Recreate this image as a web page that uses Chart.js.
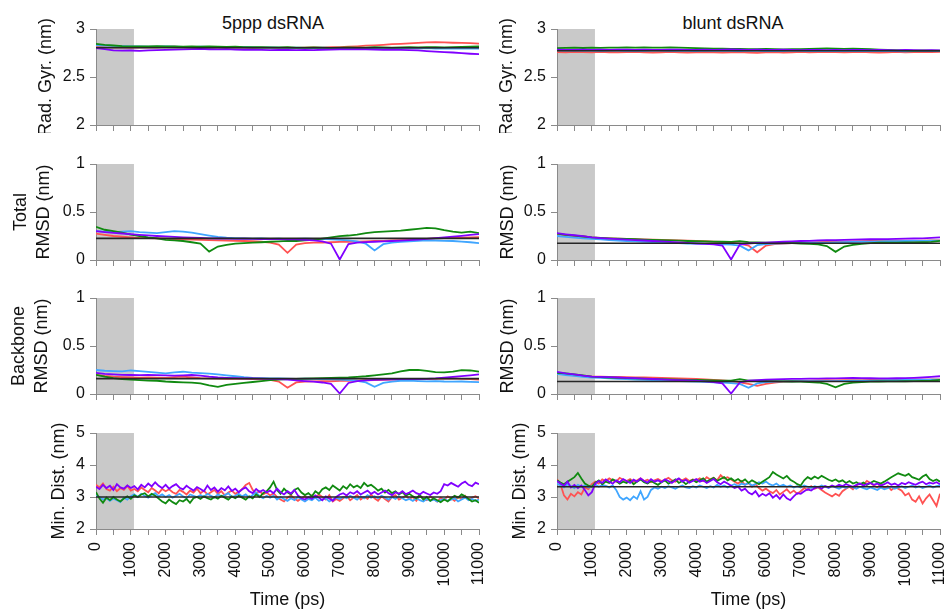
<!DOCTYPE html>
<html>
<head>
<meta charset="utf-8">
<title>dsRNA MD stability</title>
<script src="https://cdn.jsdelivr.net/npm/chart.js@4.4.1/dist/chart.umd.min.js"></script>
<style>
  html, body { margin: 0; padding: 0; background: #ffffff; }
  #page { position: relative; width: 948px; height: 613px; overflow: hidden;
          font-family: "Liberation Sans", Arial, sans-serif; }
  #page canvas { position: absolute; }
  .heading { position: absolute; top: 13px; font-size: 18px; line-height: 20px; color: #111;
             white-space: nowrap; transform: translateX(-50%); }
</style>
</head>
<body>
<div id="page">
  <div class="heading" style="left:273px">5ppp dsRNA</div>
  <div class="heading" style="left:733px">blunt dsRNA</div>
</div>
<script>
// ---------------- time axes (ps) ----------------
const timeCoarsePs = [
  0, 250, 500, 750, 1000, 1250, 1500, 1750, 2000, 2250,
  2500, 2750, 3000, 3250, 3500, 3750, 4000, 4250, 4500, 4750,
  5000, 5250, 5500, 5750, 6000, 6250, 6500, 6750, 7000, 7250,
  7500, 7750, 8000, 8250, 8500, 8750, 9000, 9250, 9500, 9750,
  10000, 10250, 10500, 10750, 11000
];
const timeFinePs = [
  0, 100, 200, 300, 400, 500, 600, 700, 800, 900,
  1000, 1100, 1200, 1300, 1400, 1500, 1600, 1700, 1800, 1900,
  2000, 2100, 2200, 2300, 2400, 2500, 2600, 2700, 2800, 2900,
  3000, 3100, 3200, 3300, 3400, 3500, 3600, 3700, 3800, 3900,
  4000, 4100, 4200, 4300, 4400, 4500, 4600, 4700, 4800, 4900,
  5000, 5100, 5200, 5300, 5400, 5500, 5600, 5700, 5800, 5900,
  6000, 6100, 6200, 6300, 6400, 6500, 6600, 6700, 6800, 6900,
  7000, 7100, 7200, 7300, 7400, 7500, 7600, 7700, 7800, 7900,
  8000, 8100, 8200, 8300, 8400, 8500, 8600, 8700, 8800, 8900,
  9000, 9100, 9200, 9300, 9400, 9500, 9600, 9700, 9800, 9900,
  10000, 10100, 10200, 10300, 10400, 10500, 10600, 10700, 10800, 10900,
  11000
];
const equilibrationEndPs = 1090;
const timeTickLabels = ['0','1000','2000','3000','4000','5000','6000','7000','8000','9000','10000','11000'];

// reference level per row: Rad. Gyr., Total RMSD, Backbone RMSD, Min. Dist.
const referenceLevels5ppp  = [2.805, 0.225, 0.160, 3.00];
const referenceLevelsBlunt = [2.773, 0.174, 0.130, 3.32];

// ---------------- radius of gyration (nm) ----------------
const rg5pppRed = [
  2.815, 2.812, 2.808, 2.810, 2.806, 2.810, 2.812, 2.809, 2.813, 2.815,
  2.812, 2.810, 2.808, 2.811, 2.809, 2.806, 2.808, 2.806, 2.804, 2.807,
  2.805, 2.803, 2.806, 2.804, 2.807, 2.809, 2.806, 2.810, 2.812, 2.815,
  2.820, 2.826, 2.830, 2.835, 2.842, 2.845, 2.850, 2.855, 2.860, 2.862,
  2.860, 2.857, 2.855, 2.852, 2.848
];
const rg5pppBlue = [
  2.830, 2.828, 2.825, 2.822, 2.818, 2.820, 2.817, 2.815, 2.818, 2.816,
  2.814, 2.812, 2.815, 2.813, 2.811, 2.809, 2.812, 2.810, 2.808, 2.806,
  2.808, 2.805, 2.803, 2.806, 2.804, 2.802, 2.805, 2.803, 2.801, 2.804,
  2.802, 2.800, 2.803, 2.801, 2.799, 2.802, 2.800, 2.798, 2.800, 2.797,
  2.799, 2.796, 2.798, 2.795, 2.797
];
const rg5pppGreen = [
  2.845, 2.835, 2.828, 2.822, 2.820, 2.818, 2.820, 2.822, 2.818, 2.820,
  2.817, 2.819, 2.816, 2.818, 2.815, 2.813, 2.815, 2.812, 2.810, 2.812,
  2.809, 2.808, 2.810, 2.807, 2.805, 2.808, 2.806, 2.804, 2.806, 2.808,
  2.805, 2.807, 2.810, 2.808, 2.806, 2.809, 2.811, 2.808, 2.810, 2.812,
  2.809, 2.811, 2.814, 2.816, 2.818
];
const rg5pppPurple = [
  2.800, 2.790, 2.778, 2.774, 2.776, 2.772, 2.778, 2.780, 2.783, 2.786,
  2.788, 2.790, 2.792, 2.789, 2.787, 2.790, 2.786, 2.784, 2.786, 2.782,
  2.780, 2.783, 2.781, 2.779, 2.782, 2.780, 2.784, 2.786, 2.789, 2.787,
  2.790, 2.787, 2.785, 2.783, 2.786, 2.782, 2.780, 2.777, 2.770, 2.765,
  2.760, 2.755, 2.748, 2.742, 2.738
];
const rgBluntRed = [
  2.760, 2.758, 2.762, 2.759, 2.757, 2.761, 2.758, 2.756, 2.759, 2.762,
  2.758, 2.755, 2.758, 2.761, 2.757, 2.754, 2.757, 2.760, 2.756, 2.753,
  2.756, 2.759, 2.755, 2.752, 2.756, 2.759, 2.755, 2.758, 2.761, 2.757,
  2.760, 2.763, 2.759, 2.756, 2.759, 2.762, 2.758, 2.755, 2.758, 2.761,
  2.757, 2.760, 2.763, 2.759, 2.762
];
const rgBluntBlue = [
  2.778, 2.776, 2.774, 2.777, 2.775, 2.773, 2.776, 2.774, 2.772, 2.775,
  2.773, 2.776, 2.774, 2.772, 2.775, 2.773, 2.771, 2.774, 2.772, 2.775,
  2.773, 2.771, 2.774, 2.772, 2.770, 2.773, 2.771, 2.774, 2.772, 2.770,
  2.773, 2.771, 2.769, 2.772, 2.770, 2.773, 2.771, 2.769, 2.772, 2.770,
  2.768, 2.771, 2.769, 2.772, 2.770
];
const rgBluntGreen = [
  2.800, 2.803, 2.805, 2.802, 2.806, 2.804, 2.807, 2.805, 2.808, 2.806,
  2.809, 2.807, 2.805, 2.808, 2.806, 2.803, 2.800, 2.798, 2.796, 2.795,
  2.792, 2.794, 2.791, 2.789, 2.792, 2.790, 2.788, 2.791, 2.789, 2.793,
  2.795, 2.798, 2.796, 2.794, 2.796, 2.792, 2.789, 2.785, 2.782, 2.779,
  2.777, 2.775, 2.776, 2.774, 2.775
];
const rgBluntPurple = [
  2.785, 2.783, 2.781, 2.784, 2.782, 2.785, 2.783, 2.786, 2.784, 2.782,
  2.785, 2.783, 2.781, 2.784, 2.786, 2.783, 2.781, 2.784, 2.782, 2.785,
  2.787, 2.784, 2.782, 2.785, 2.783, 2.781, 2.784, 2.782, 2.780, 2.783,
  2.781, 2.779, 2.782, 2.780, 2.783, 2.781, 2.779, 2.782, 2.780, 2.778,
  2.781, 2.779, 2.777, 2.780, 2.778
];

// ---------------- total RMSD (nm) ----------------
const tot5pppRed = [
  0.275, 0.262, 0.250, 0.242, 0.235, 0.230, 0.228, 0.225, 0.222, 0.218,
  0.215, 0.212, 0.210, 0.208, 0.205, 0.203, 0.200, 0.198, 0.196, 0.190,
  0.180, 0.160, 0.075, 0.160, 0.175, 0.180, 0.182, 0.185, 0.188, 0.190,
  0.192, 0.195, 0.198, 0.200, 0.203, 0.206, 0.210, 0.215, 0.220, 0.225,
  0.228, 0.230, 0.232, 0.235, 0.238
];
const tot5pppBlue = [
  0.300, 0.295, 0.290, 0.295, 0.300, 0.290, 0.285, 0.280, 0.290, 0.300,
  0.295, 0.285, 0.270, 0.255, 0.240, 0.232, 0.228, 0.225, 0.222, 0.224,
  0.220, 0.222, 0.218, 0.220, 0.222, 0.219, 0.221, 0.215, 0.210, 0.205,
  0.195, 0.170, 0.100, 0.165, 0.180, 0.188, 0.195, 0.200, 0.205, 0.203,
  0.200, 0.198, 0.192, 0.185, 0.175
];
const tot5pppGreen = [
  0.345, 0.315, 0.300, 0.285, 0.265, 0.250, 0.235, 0.225, 0.210, 0.205,
  0.198, 0.185, 0.170, 0.088, 0.140, 0.158, 0.170, 0.175, 0.180, 0.185,
  0.190, 0.195, 0.200, 0.198, 0.205, 0.210, 0.222, 0.235, 0.248, 0.255,
  0.265, 0.280, 0.290, 0.295, 0.300, 0.305, 0.315, 0.325, 0.335, 0.330,
  0.310, 0.295, 0.285, 0.295, 0.280
];
const tot5pppPurple = [
  0.300, 0.290, 0.282, 0.276, 0.270, 0.262, 0.256, 0.250, 0.246, 0.240,
  0.236, 0.232, 0.230, 0.226, 0.224, 0.222, 0.220, 0.222, 0.220, 0.218,
  0.220, 0.218, 0.216, 0.214, 0.210, 0.205, 0.195, 0.170, 0.005, 0.165,
  0.180, 0.186, 0.190, 0.194, 0.198, 0.202, 0.206, 0.212, 0.220, 0.228,
  0.236, 0.244, 0.252, 0.262, 0.270
];
const totBluntRed = [
  0.270, 0.260, 0.252, 0.245, 0.236, 0.230, 0.226, 0.223, 0.220, 0.218,
  0.215, 0.212, 0.210, 0.207, 0.205, 0.202, 0.200, 0.196, 0.192, 0.188,
  0.182, 0.170, 0.150, 0.080, 0.150, 0.165, 0.170, 0.175, 0.178, 0.182,
  0.185, 0.188, 0.190, 0.192, 0.194, 0.196, 0.198, 0.200, 0.200, 0.201,
  0.202, 0.200, 0.201, 0.203, 0.204
];
const totBluntBlue = [
  0.250, 0.240, 0.232, 0.226, 0.220, 0.214, 0.208, 0.203, 0.198, 0.194,
  0.190, 0.186, 0.182, 0.178, 0.175, 0.172, 0.170, 0.167, 0.165, 0.163,
  0.160, 0.150, 0.100, 0.155, 0.165, 0.170, 0.173, 0.176, 0.178, 0.180,
  0.181, 0.182, 0.184, 0.186, 0.188, 0.190, 0.192, 0.194, 0.196, 0.197,
  0.198, 0.199, 0.200, 0.201, 0.202
];
const totBluntGreen = [
  0.275, 0.262, 0.253, 0.245, 0.236, 0.230, 0.226, 0.222, 0.219, 0.216,
  0.213, 0.210, 0.207, 0.204, 0.201, 0.198, 0.196, 0.194, 0.192, 0.190,
  0.188, 0.196, 0.186, 0.184, 0.182, 0.180, 0.178, 0.175, 0.172, 0.168,
  0.162, 0.145, 0.085, 0.140, 0.158, 0.168, 0.176, 0.180, 0.182, 0.182,
  0.183, 0.184, 0.185, 0.188, 0.200
];
const totBluntPurple = [
  0.280, 0.268, 0.258, 0.248, 0.236, 0.228, 0.222, 0.218, 0.213, 0.208,
  0.203, 0.198, 0.193, 0.188, 0.183, 0.178, 0.172, 0.168, 0.163, 0.150,
  0.005, 0.160, 0.172, 0.178, 0.182, 0.186, 0.190, 0.194, 0.198, 0.200,
  0.204, 0.206, 0.208, 0.210, 0.212, 0.214, 0.216, 0.218, 0.218, 0.220,
  0.222, 0.224, 0.226, 0.230, 0.235
];

// ---------------- backbone RMSD (nm) ----------------
const bb5pppRed = [
  0.200, 0.188, 0.180, 0.175, 0.172, 0.170, 0.172, 0.170, 0.168, 0.175,
  0.180, 0.172, 0.165, 0.162, 0.160, 0.158, 0.160, 0.158, 0.156, 0.152,
  0.148, 0.130, 0.065, 0.120, 0.130, 0.132, 0.135, 0.133, 0.136, 0.138,
  0.140, 0.143, 0.145, 0.148, 0.150, 0.152, 0.150, 0.153, 0.156, 0.158,
  0.160, 0.162, 0.158, 0.155, 0.150
];
const bb5pppBlue = [
  0.250, 0.242, 0.238, 0.235, 0.245, 0.238, 0.230, 0.222, 0.215, 0.225,
  0.232, 0.222, 0.218, 0.212, 0.205, 0.195, 0.185, 0.175, 0.168, 0.165,
  0.163, 0.162, 0.160, 0.158, 0.160, 0.158, 0.155, 0.152, 0.150, 0.145,
  0.138, 0.120, 0.075, 0.115, 0.130, 0.138, 0.140, 0.135, 0.132, 0.135,
  0.130, 0.128, 0.130, 0.126, 0.124
];
const bb5pppGreen = [
  0.200, 0.180, 0.165, 0.155, 0.150, 0.145, 0.140, 0.138, 0.130, 0.125,
  0.122, 0.118, 0.110, 0.090, 0.075, 0.095, 0.105, 0.115, 0.125, 0.135,
  0.145, 0.150, 0.155, 0.158, 0.160, 0.162, 0.165, 0.168, 0.170, 0.172,
  0.178, 0.185, 0.195, 0.205, 0.215, 0.235, 0.250, 0.252, 0.240, 0.228,
  0.225, 0.232, 0.248, 0.245, 0.232
];
const bb5pppPurple = [
  0.220, 0.210, 0.205, 0.200, 0.198, 0.196, 0.198, 0.196, 0.194, 0.192,
  0.195, 0.198, 0.192, 0.180, 0.172, 0.168, 0.165, 0.163, 0.162, 0.160,
  0.158, 0.156, 0.150, 0.142, 0.135, 0.128, 0.120, 0.105, 0.005, 0.115,
  0.135, 0.142, 0.148, 0.150, 0.152, 0.154, 0.155, 0.156, 0.158, 0.162,
  0.170, 0.178, 0.186, 0.195, 0.205
];
const bbBluntRed = [
  0.220, 0.205, 0.195, 0.188, 0.182, 0.180, 0.178, 0.177, 0.175, 0.173,
  0.172, 0.170, 0.168, 0.166, 0.163, 0.160, 0.157, 0.153, 0.148, 0.142,
  0.135, 0.122, 0.105, 0.085, 0.105, 0.118, 0.128, 0.133, 0.137, 0.140,
  0.142, 0.143, 0.142, 0.144, 0.145, 0.144, 0.146, 0.148, 0.147, 0.149,
  0.150, 0.151, 0.150, 0.152, 0.153
];
const bbBluntBlue = [
  0.210, 0.198, 0.188, 0.178, 0.172, 0.168, 0.163, 0.158, 0.154, 0.150,
  0.147, 0.144, 0.141, 0.138, 0.135, 0.132, 0.130, 0.126, 0.122, 0.118,
  0.114, 0.105, 0.065, 0.110, 0.125, 0.130, 0.132, 0.133, 0.134, 0.133,
  0.134, 0.135, 0.134, 0.136, 0.138, 0.139, 0.140, 0.142, 0.144, 0.145,
  0.146, 0.147, 0.148, 0.149, 0.150
];
const bbBluntGreen = [
  0.220, 0.215, 0.205, 0.195, 0.182, 0.176, 0.172, 0.168, 0.165, 0.162,
  0.160, 0.157, 0.155, 0.152, 0.150, 0.148, 0.146, 0.144, 0.142, 0.140,
  0.139, 0.155, 0.140, 0.138, 0.136, 0.134, 0.132, 0.130, 0.128, 0.125,
  0.120, 0.105, 0.070, 0.105, 0.118, 0.124, 0.128, 0.130, 0.131, 0.132,
  0.133, 0.134, 0.136, 0.140, 0.148
];
const bbBluntPurple = [
  0.230, 0.215, 0.205, 0.192, 0.182, 0.178, 0.175, 0.172, 0.168, 0.165,
  0.160, 0.156, 0.152, 0.148, 0.145, 0.142, 0.138, 0.132, 0.125, 0.110,
  0.005, 0.120, 0.138, 0.145, 0.150, 0.152, 0.155, 0.157, 0.158, 0.160,
  0.160, 0.162, 0.163, 0.165, 0.168, 0.166, 0.164, 0.163, 0.162, 0.164,
  0.166, 0.168, 0.172, 0.178, 0.185
];

// ---------------- minimum distance (nm) ----------------
const md5pppRed = [
  3.38, 3.30, 3.42, 3.25, 3.20, 3.32, 3.18, 3.28, 3.22, 3.35,
  3.20, 3.25, 3.18, 3.30, 3.22, 3.15, 3.28, 3.20, 3.12, 3.25,
  3.18, 3.24, 3.15, 3.10, 3.22, 3.16, 3.08, 3.20, 3.14, 3.26,
  3.12, 3.20, 3.08, 3.15, 3.22, 3.10, 3.18, 3.05, 3.14, 3.20,
  3.10, 3.16, 3.25, 3.38, 3.44, 3.22, 3.12, 3.18, 3.08, 3.14,
  3.05, 3.12, 3.00, 2.92, 2.86, 2.98, 3.05, 2.95, 2.88, 2.96,
  3.02, 2.94, 3.05, 2.98, 3.08, 3.00, 2.92, 3.06, 2.86, 2.94,
  2.88, 2.96, 3.04, 2.90, 2.98, 3.06, 2.92, 3.00, 2.94, 3.08,
  2.96, 2.88, 3.02, 2.94, 2.86, 3.00, 3.06, 2.92, 2.98, 3.04,
  2.94, 3.00, 2.88, 3.04, 2.96, 2.90, 3.02, 2.94, 2.86, 2.98,
  2.92, 3.02, 2.96, 2.88, 3.00, 2.94, 3.04, 2.92, 2.98, 3.02,
  2.95
];
const md5pppBlue = [
  3.05, 3.00, 2.92, 2.96, 2.88, 2.95, 2.90, 2.84, 2.98, 2.92,
  3.02, 3.08, 3.00, 3.10, 3.04, 2.98, 3.06, 3.12, 3.02, 3.08,
  3.00, 3.06, 2.98, 3.04, 3.10, 3.02, 2.96, 3.08, 3.04, 3.00,
  3.06, 3.00, 3.10, 3.04, 2.98, 3.08, 3.02, 3.06, 3.12, 3.00,
  3.04, 3.10, 3.02, 3.08, 2.98, 3.06, 3.14, 3.02, 2.96, 3.04,
  2.98, 3.04, 2.92, 3.00, 2.94, 2.88, 2.96, 2.90, 3.00, 2.92,
  2.86, 2.94, 2.90, 2.98, 2.88, 2.92, 2.96, 2.86, 2.92, 2.98,
  2.94, 3.00, 2.96, 3.04, 2.98, 2.92, 3.02, 2.96, 3.06, 2.98,
  3.02, 2.96, 3.04, 2.98, 2.92, 3.00, 2.94, 3.02, 2.96, 2.90,
  2.94, 2.88, 2.96, 2.90, 2.86, 2.94, 2.88, 2.92, 2.86, 2.90,
  2.94, 2.88, 2.92, 2.96, 2.86, 2.92, 2.98, 2.90, 2.94, 2.88,
  2.92
];
const md5pppGreen = [
  3.15, 2.95, 2.82, 2.98, 2.90, 3.00, 2.92, 2.86, 2.95, 3.02,
  2.94, 3.05, 3.00, 3.08, 3.12, 3.02, 3.10, 3.04, 2.95, 2.86,
  2.80, 2.92, 2.84, 2.78, 2.90, 2.86, 2.94, 2.82, 2.96, 3.00,
  2.94, 3.02, 2.96, 2.92, 3.00, 2.95, 3.04, 2.98, 2.92, 3.02,
  2.96, 3.04, 2.98, 2.92, 3.02, 2.96, 3.08, 3.00, 3.12, 3.18,
  3.30, 3.48, 3.22, 3.10, 3.26, 3.15, 3.08, 3.22, 3.28, 3.14,
  3.06, 3.12, 3.02, 3.18, 3.10, 3.24, 3.30, 3.22, 3.36, 3.28,
  3.20, 3.34, 3.26, 3.40, 3.30, 3.36, 3.28, 3.44, 3.34, 3.38,
  3.30, 3.20, 3.26, 3.14, 3.22, 3.12, 3.18, 3.08, 3.15, 3.04,
  3.10, 3.02, 2.96, 3.06, 2.92, 3.00, 2.88, 2.96, 2.90, 2.84,
  2.92, 2.86, 2.96, 3.04, 2.98, 3.08, 3.02, 2.94, 2.86, 2.90,
  2.82
];
const md5pppPurple = [
  3.32, 3.25, 3.38, 3.28, 3.35, 3.22, 3.40, 3.30, 3.26, 3.36,
  3.28, 3.34, 3.24, 3.38, 3.30, 3.42, 3.33, 3.46, 3.35, 3.28,
  3.38, 3.26, 3.34, 3.40, 3.29, 3.24, 3.35, 3.27, 3.20, 3.31,
  3.25, 3.18, 3.36, 3.22, 3.30, 3.17, 3.28, 3.21, 3.33, 3.19,
  3.26, 3.15, 3.24, 3.30, 3.18, 3.12, 3.25, 3.16, 3.22, 3.14,
  3.20, 3.12, 3.26, 3.15, 3.08, 3.18, 3.11, 3.22, 3.05, 2.96,
  2.92, 3.00, 2.94, 3.05, 2.98, 2.90, 3.02, 2.95, 2.88, 3.00,
  3.08, 3.12, 3.05, 3.15, 3.10, 3.18, 3.08, 3.14, 3.20, 3.10,
  3.16, 3.08, 3.14, 3.20, 3.12, 3.06, 3.15, 3.10, 3.18, 3.09,
  3.14, 3.20, 3.12, 3.08, 3.16, 3.11, 3.06, 3.14, 3.10, 3.18,
  3.40, 3.36, 3.44, 3.38, 3.32, 3.42, 3.48, 3.38, 3.34, 3.45,
  3.40
];
const mdBluntRed = [
  3.55, 3.40, 3.05, 2.92, 3.10, 3.02, 3.15, 3.08, 3.30, 3.25,
  3.40, 3.48, 3.42, 3.55, 3.50, 3.58, 3.52, 3.48, 3.60, 3.54,
  3.50, 3.56, 3.48, 3.52, 3.58, 3.50, 3.54, 3.46, 3.52, 3.56,
  3.50, 3.54, 3.60, 3.52, 3.48, 3.56, 3.52, 3.58, 3.50, 3.55,
  3.52, 3.58, 3.50, 3.62, 3.55, 3.60, 3.52, 3.68, 3.58, 3.62,
  3.55, 3.48, 3.42, 3.50, 3.38, 3.44, 3.32, 3.40, 3.28, 3.20,
  3.26, 3.18, 3.12, 3.22, 3.08, 3.16, 3.24, 3.12, 3.20, 3.10,
  3.18, 3.28, 3.22, 3.34, 3.26, 3.30, 3.22, 3.14, 3.08, 3.02,
  3.10, 3.04, 3.18, 3.26, 3.32, 3.24, 3.36, 3.42, 3.38, 3.50,
  3.44, 3.36, 3.30, 3.40, 3.28, 3.34, 3.22, 3.30, 3.26, 3.20,
  3.05, 3.12, 2.92, 2.85, 3.02, 2.80, 2.96, 3.08, 2.90, 2.72,
  3.10
];
const mdBluntBlue = [
  3.42, 3.36, 3.30, 3.40, 3.34, 3.28, 3.38, 3.32, 3.36, 3.30,
  3.34, 3.40, 3.32, 3.38, 3.35, 3.30, 3.36, 3.22, 3.00, 2.92,
  2.98, 2.90, 3.02, 2.94, 3.18, 2.92, 3.00, 3.22, 3.30, 3.26,
  3.32, 3.28, 3.34, 3.30, 3.26, 3.32, 3.36, 3.30, 3.28, 3.34,
  3.30, 3.36, 3.32, 3.28, 3.34, 3.30, 3.38, 3.32, 3.36, 3.30,
  3.36, 3.40, 3.34, 3.42, 3.38, 3.44, 3.36, 3.40, 3.46, 3.42,
  3.48, 3.40, 3.36, 3.42, 3.34, 3.38, 3.32, 3.36, 3.30, 3.34,
  3.30, 3.36, 3.32, 3.28, 3.34, 3.30, 3.36, 3.32, 3.28, 3.34,
  3.30, 3.26, 3.32, 3.28, 3.34, 3.30, 3.26, 3.32, 3.28, 3.24,
  3.30, 3.26, 3.22, 3.30, 3.24, 3.28, 3.32, 3.26, 3.30, 3.34,
  3.28, 3.32, 3.36, 3.30, 3.34, 3.28, 3.32, 3.36, 3.30, 3.34,
  3.36
];
const mdBluntGreen = [
  3.52, 3.45, 3.40, 3.48, 3.55, 3.62, 3.75, 3.58, 3.42, 3.36,
  3.32, 3.45, 3.52, 3.40, 3.48, 3.44, 3.55, 3.50, 3.42, 3.48,
  3.44, 3.52, 3.40, 3.48, 3.55, 3.46, 3.42, 3.50, 3.44, 3.38,
  3.46, 3.52, 3.42, 3.48, 3.55, 3.44, 3.50, 3.40, 3.48, 3.54,
  3.46, 3.52, 3.58, 3.48, 3.54, 3.60, 3.50, 3.56, 3.62, 3.52,
  3.58, 3.50, 3.56, 3.48, 3.55, 3.44, 3.52, 3.46, 3.40, 3.48,
  3.55, 3.62, 3.78, 3.70, 3.64, 3.58, 3.66, 3.54, 3.48, 3.40,
  3.36, 3.52, 3.62, 3.56, 3.64, 3.58, 3.66, 3.60, 3.54, 3.50,
  3.55, 3.48, 3.52, 3.44, 3.50, 3.42, 3.46, 3.40, 3.45, 3.38,
  3.44, 3.50, 3.46, 3.42, 3.48, 3.55, 3.62, 3.68, 3.74, 3.70,
  3.66, 3.72, 3.62, 3.58, 3.54, 3.64, 3.70, 3.56, 3.50, 3.55,
  3.48
];
const mdBluntPurple = [
  3.50, 3.42, 3.35, 3.48, 3.30, 3.38, 3.28, 3.36, 3.22, 3.05,
  3.15, 3.42, 3.50, 3.44, 3.55, 3.48, 3.42, 3.52, 3.46, 3.56,
  3.50, 3.44, 3.54, 3.48, 3.58, 3.50, 3.45, 3.56, 3.48, 3.52,
  3.46, 3.55, 3.50, 3.44, 3.52, 3.58, 3.48, 3.54, 3.45, 3.50,
  3.56, 3.48, 3.52, 3.44, 3.50, 3.56, 3.46, 3.40, 3.48, 3.42,
  3.35, 3.28, 3.32, 3.20, 3.26, 3.14, 3.08, 3.18, 3.02, 3.10,
  3.04, 3.12, 2.98, 3.06, 2.94, 3.08, 2.96, 2.90, 3.02, 3.12,
  3.10, 3.18, 3.24, 3.20, 3.28, 3.32, 3.26, 3.34, 3.30, 3.36,
  3.32, 3.38, 3.34, 3.40, 3.36, 3.32, 3.38, 3.42, 3.36, 3.40,
  3.44, 3.38, 3.42, 3.36, 3.40, 3.46, 3.38, 3.42, 3.36, 3.44,
  3.40, 3.46, 3.42, 3.38, 3.44, 3.48, 3.40, 3.45, 3.42, 3.46,
  3.40
];

// ---------------- styling ----------------
Chart.defaults.font.family = "'Liberation Sans', Arial, sans-serif";
Chart.defaults.color = '#111111';

const seriesColors = { red: '#ff5252', blue: '#40a6ff', green: '#108a10', purple: '#8000ff' };
const referenceColor = '#262626';
const axisColor = '#8a8a8a';
const shadeColor = '#c9c9c9';

// shaded equilibration window, drawn before the axes and traces
const equilibrationShade = {
  id: 'equilibrationShade',
  beforeDraw(chart, args, opts) {
    const { ctx, chartArea, scales } = chart;
    const x0 = scales.x.getPixelForValue(opts.from);
    const x1 = scales.x.getPixelForValue(opts.to);
    ctx.save();
    ctx.fillStyle = opts.color;
    ctx.fillRect(x0, chartArea.top, x1 - x0, chartArea.bottom - chartArea.top);
    ctx.restore();
  }
};

// rows: Rad. Gyr., Total RMSD, Backbone RMSD, Min. Dist.
const rowAxes = [
  { min: 2, max: 3, step: 0.5, titles: ['Rad. Gyr. (nm)', 'Rad. Gyr. (nm)'], titlePad: [34.75, 26.25] },
  { min: 0, max: 1, step: 0.5, titles: [['Total', 'RMSD (nm)'], 'RMSD (nm)'], titlePad: [10.25, 26.75] },
  { min: 0, max: 1, step: 0.5, titles: [['Backbone', 'RMSD (nm)'], 'RMSD (nm)'], titlePad: [8.25, 26.75] },
  { min: 2, max: 5, step: 1, titles: ['Min. Dist. (nm)', 'Min. Dist. (nm)'], titlePad: [47.75, 38.75] }
];

const columns = [
  {
    left: 0, width: 490, axisWidth: 96, padRight: 11, refs: referenceLevels5ppp,
    rows: [
      { t: timeCoarsePs, red: rg5pppRed, blue: rg5pppBlue, green: rg5pppGreen, purple: rg5pppPurple },
      { t: timeCoarsePs, red: tot5pppRed, blue: tot5pppBlue, green: tot5pppGreen, purple: tot5pppPurple },
      { t: timeCoarsePs, red: bb5pppRed, blue: bb5pppBlue, green: bb5pppGreen, purple: bb5pppPurple },
      { t: timeFinePs, red: md5pppRed, blue: md5pppBlue, green: md5pppGreen, purple: md5pppPurple }
    ]
  },
  {
    left: 470, width: 478, axisWidth: 87, padRight: 8, refs: referenceLevelsBlunt,
    rows: [
      { t: timeCoarsePs, red: rgBluntRed, blue: rgBluntBlue, green: rgBluntGreen, purple: rgBluntPurple },
      { t: timeCoarsePs, red: totBluntRed, blue: totBluntBlue, green: totBluntGreen, purple: totBluntPurple },
      { t: timeCoarsePs, red: bbBluntRed, blue: bbBluntBlue, green: bbBluntGreen, purple: bbBluntPurple },
      { t: timeFinePs, red: mdBluntRed, blue: mdBluntBlue, green: mdBluntGreen, purple: mdBluntPurple }
    ]
  }
];

const plotTops = [29, 164, 298, 433];
const plotHeight = 96;
const padTop = 14;
const pageHeight = 613;
const tMin = 0, tMax = 11000;

function toPoints(t, values) {
  return values.map((v, i) => ({ x: t[i], y: v }));
}

// plain numbers on the value axes: 0, 0.5, 1 / 2, 2.5, 3
const formatValueTick = (v) => String(Math.round(v * 100) / 100);

function buildPanel(col, ci, ri) {
  const axis = rowAxes[ri];
  const series = col.rows[ri];
  const isBottom = ri === rowAxes.length - 1;
  const top = plotTops[ri] - padTop;
  const height = isBottom ? pageHeight - top : padTop + plotHeight + 8;
  const xAxisHeight = height - padTop - plotHeight;

  const canvas = document.createElement('canvas');
  canvas.width = col.width;
  canvas.height = height;
  canvas.style.left = col.left + 'px';
  canvas.style.top = top + 'px';
  document.getElementById('page').appendChild(canvas);

  const trace = (key) => ({
    data: toPoints(series.t, series[key]),
    borderColor: seriesColors[key],
    borderWidth: 1.8,
    pointRadius: 0,
    tension: 0
  });
  const level = col.refs[ri];

  new Chart(canvas, {
    type: 'line',
    data: {
      datasets: [
        { data: [{ x: tMin, y: level }, { x: tMax, y: level }], borderColor: referenceColor, borderWidth: 1.6, pointRadius: 0 },
        trace('purple'),
        trace('green'),
        trace('blue'),
        trace('red')
      ]
    },
    options: {
      responsive: false,
      animation: false,
      events: [],
      layout: { padding: { top: padTop, left: 0, right: col.padRight, bottom: 0 } },
      plugins: {
        legend: { display: false },
        tooltip: { enabled: false },
        equilibrationShade: { from: tMin, to: equilibrationEndPs, color: shadeColor }
      },
      scales: {
        x: {
          type: 'linear', min: tMin, max: tMax,
          border: { display: true, color: axisColor, width: 1 },
          grid: { drawOnChartArea: false, drawTicks: true, tickLength: 6, color: axisColor },
          ticks: {
            display: isBottom, stepSize: 500, autoSkip: false,
            minRotation: 90, maxRotation: 90, padding: 7,
            font: { size: 16 }, color: '#111111',
            callback: (v) => timeTickLabels.includes(String(v)) ? String(v) : ''
          },
          title: {
            display: isBottom, text: 'Time (ps)', color: '#111111',
            font: { size: 18, lineHeight: 1.25 }, padding: { top: 0, bottom: 2 }
          },
          afterFit: (s) => { s.height = xAxisHeight; s.paddingLeft = 0; s.paddingRight = 0; }
        },
        y: {
          min: axis.min, max: axis.max,
          border: { display: true, color: axisColor, width: 1 },
          grid: { drawOnChartArea: false, drawTicks: true, tickLength: 6, color: axisColor },
          ticks: { stepSize: axis.step, padding: 5, font: { size: 16 }, color: '#111111', callback: formatValueTick },
          title: {
            display: true, text: axis.titles[ci], color: '#111111',
            font: { size: 18, lineHeight: 1.25 }, padding: { top: axis.titlePad[ci], bottom: 0 }
          },
          afterFit: (s) => { s.width = col.axisWidth; s.paddingTop = 0; s.paddingBottom = 0; }
        }
      }
    },
    plugins: [equilibrationShade]
  });
}

columns.forEach((col, ci) => {
  rowAxes.forEach((_, ri) => buildPanel(col, ci, ri));
});
</script>
</body>
</html>
